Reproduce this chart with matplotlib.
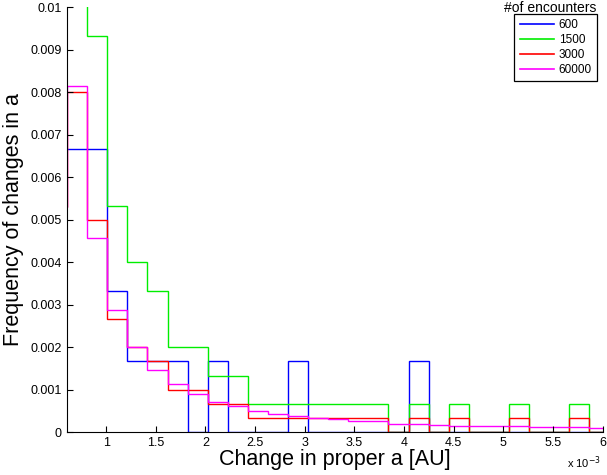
import numpy as np
import matplotlib
matplotlib.use("Agg")
import matplotlib.pyplot as plt
from matplotlib.lines import Line2D

# bin layout (x in units of 1e-3 AU)
bin_start = 0.405
bin_width = 0.2022

labels = ["600", "1500", "3000", "60000"]
colors = ["#0000ff", "#00ee00", "#ff0000", "#ff00ff"]

# frequencies per bin (first bin sits just left of the visible range)
freq_600 = [0.00667, 0.00667, 0.00667, 0.00333, 0.00167, 0.00167, 0.00167, 0.0,
            0.00167, 0, 0, 0, 0.00167, 0, 0, 0, 0, 0, 0.00167, 0, 0, 0, 0, 0, 0, 0, 0, 0]
freq_1500 = [0.012, 0.012, 0.00933, 0.00533, 0.004, 0.00333, 0.002, 0.002,
             0.00133, 0.00133, 0.000667, 0.000667, 0.000667, 0.000667, 0.000667,
             0.000667, 0.000667, 0, 0.000667, 0, 0.000667, 0, 0, 0.000667, 0, 0,
             0.000667, 0]
freq_3000 = [0.0053, 0.008, 0.005, 0.00267, 0.002, 0.00167, 0.001, 0.001,
             0.000667, 0.000667, 0.000333, 0.000333, 0.000333, 0.000333, 0.000333,
             0.000333, 0.000333, 0, 0.000333, 0, 0.000333, 0, 0, 0.000333, 0, 0,
             0.000333, 0]
freq_60000 = [0.0053, 0.00815, 0.00456, 0.00287, 0.002, 0.00145, 0.00112, 0.000895,
              0.00071, 0.00061, 0.0005, 0.00042, 0.00037, 0.00034, 0.0003, 0.00026,
              0.00025, 0.0002, 0.00019, 0.000165, 0.00015, 0.00015, 0.000135,
              0.00013, 0.00011, 0.00011, 0.00011, 0.000095]

series = [freq_600, freq_1500, freq_3000, freq_60000]

x_ticks = [1, 1.5, 2, 2.5, 3, 3.5, 4, 4.5, 5, 5.5, 6]
x_ticklabels = ["1", "1.5", "2", "2.5", "3", "3.5", "4", "4.5", "5", "5.5", "6"]
y_ticks = [0, 0.001, 0.002, 0.003, 0.004, 0.005, 0.006, 0.007, 0.008, 0.009, 0.01]
y_ticklabels = ["0", "0.001", "0.002", "0.003", "0.004", "0.005", "0.006",
                "0.007", "0.008", "0.009", "0.01"]

plt.rcParams['font.family'] = ['Liberation Sans', 'DejaVu Sans']

fig = plt.figure(figsize=(6.07, 4.75), dpi=100)
ax = fig.add_axes([0.110, 0.0905, 0.883, 0.8945])

for vals, c in zip(series, colors):
    edges = bin_start + bin_width * np.arange(len(vals) + 1)
    ax.stairs(vals, edges, baseline=None, color=c, linewidth=1.0)

ax.set_xlim(0.604, 6.0)
ax.set_ylim(0, 0.01)
ax.set_xticks(x_ticks)
ax.set_xticklabels(x_ticklabels)
ax.set_yticks(y_ticks)
ax.set_yticklabels(y_ticklabels)
ax.tick_params(direction='in', length=4, labelsize=9, width=0.8)
ax.spines['top'].set_visible(False)
ax.spines['right'].set_visible(False)
ax.set_xlabel("Change in proper a [AU]", fontsize=15.5, labelpad=0)
ax.set_ylabel("Frequency of changes in a", fontsize=15.5, labelpad=5)
fig.text(0.962, 0.008, r"x 10$^{-3}$", fontsize=8, ha='center', va='bottom')

handles = [Line2D([0], [0], color=c, linewidth=1.2) for c in colors]
leg = ax.legend(handles, labels, loc='upper right',
                bbox_to_anchor=(597 / 607, 1 - 14 / 475), bbox_transform=fig.transFigure,
                borderaxespad=0, fancybox=False, framealpha=1, edgecolor='black',
                fontsize=8.5, handlelength=2.9, labelspacing=0.25, borderpad=0.45,
                handletextpad=0.4)
leg.get_frame().set_linewidth(0.9)
fig.text(550 / 607, 1 - 8 / 475, "#of encounters", fontsize=10, ha='center', va='center')

fig.savefig("out.png", dpi=100)
